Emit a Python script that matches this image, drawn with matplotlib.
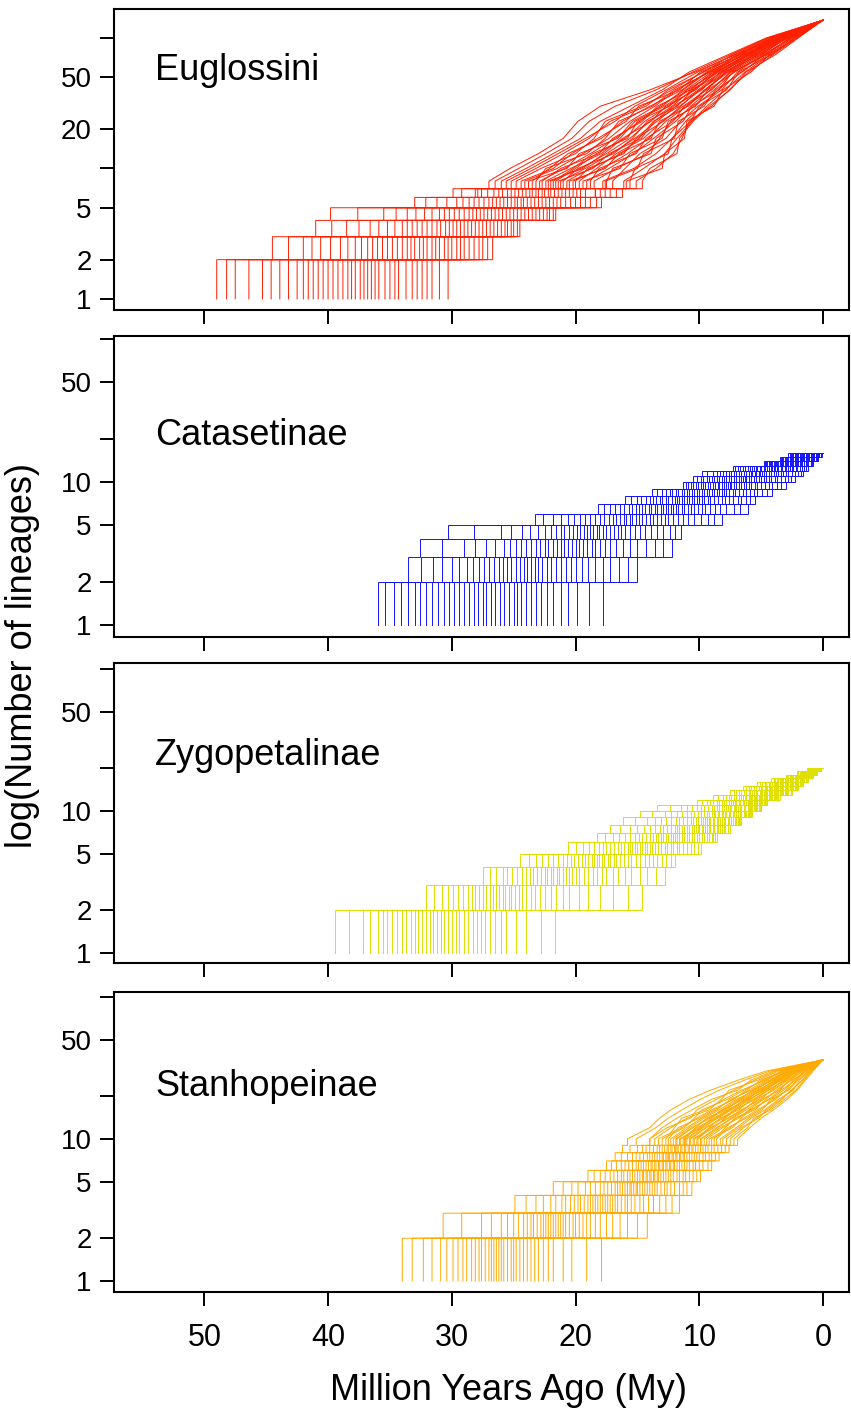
import matplotlib
matplotlib.use("Agg")
import matplotlib.pyplot as plt
from matplotlib.ticker import FixedLocator, NullLocator

plt.rcParams['font.family'] = ['Liberation Sans', 'DejaVu Sans']

# ---------------- data (ages in My at which each lineage count is reached) ----
X_TICKS = [50, 40, 30, 20, 10, 0]
Y_TICKS = [1, 2, 5, 10, 20, 50, 100]
Y_LABELS_TOP = ['1', '2', '5', '', '20', '50', '']
Y_LABELS_OTHER = ['1', '2', '5', '10', '', '50', '']

EUG_TIPS = 137
EUG_LEVELS = [2, 3, 4, 5, 6, 7, 8, 10, 13, 17, 23, 30, 40, 55, 75, 100]
EUG_AGES = [
    [49.0, 44.5, 41.0, 39.8, 33.0, 29.9, 27.0, 25.3, 23.0, 21.0, 19.8, 18.0, 14.0, 10.3, 7.0, 4.1],
    [45.3, 42.0, 36.6, 35.5, 31.2, 27.6, 26.0, 24.0, 21.8, 19.6, 18.0, 15.6, 13.0, 10.8, 7.6, 4.6],
    [47.5, 39.0, 38.5, 33.6, 28.6, 27.9, 25.2, 23.2, 21.0, 18.9, 17.2, 14.3, 12.5, 9.6, 7.3, 4.4],
    [41.6, 40.6, 35.2, 31.0, 29.6, 26.6, 24.4, 21.8, 20.3, 18.2, 15.9, 14.9, 11.6, 9.9, 6.6, 4.2],
    [43.9, 36.8, 34.0, 32.2, 27.8, 25.9, 23.2, 22.4, 19.1, 17.6, 16.5, 13.8, 12.0, 9.1, 6.8, 3.8],
    [40.0, 37.8, 32.4, 30.2, 26.4, 25.2, 23.8, 20.7, 19.7, 16.6, 15.4, 13.0, 11.3, 9.3, 6.2, 4.0],
    [42.5, 35.2, 33.2, 28.6, 27.0, 24.0, 22.7, 21.2, 18.1, 17.0, 14.6, 13.4, 10.7, 8.9, 6.4, 3.6],
    [38.4, 36.0, 30.9, 29.4, 25.2, 24.6, 21.8, 20.2, 18.6, 15.8, 15.0, 12.4, 11.0, 8.5, 6.1, 3.7],
    [40.8, 33.6, 31.6, 27.4, 25.8, 23.0, 22.2, 19.4, 17.7, 16.2, 13.9, 12.7, 10.3, 8.7, 5.8, 3.5],
    [37.1, 34.4, 29.6, 28.0, 24.2, 23.5, 21.0, 19.8, 16.9, 15.4, 14.2, 11.8, 10.5, 8.1, 6.0, 3.3],
    [39.2, 32.3, 30.2, 26.2, 24.7, 22.0, 21.4, 18.6, 17.3, 14.7, 13.6, 12.1, 9.8, 8.3, 5.5, 3.4],
    [35.9, 33.0, 28.4, 26.8, 23.0, 22.5, 20.0, 19.0, 16.1, 15.1, 12.9, 11.5, 10.0, 7.7, 5.6, 3.1],
    [37.8, 31.0, 29.0, 25.0, 23.6, 20.8, 20.5, 17.6, 16.5, 13.9, 13.2, 10.9, 9.5, 7.9, 5.1, 3.2],
    [34.3, 31.6, 27.2, 25.6, 21.8, 21.4, 18.8, 18.1, 15.1, 14.3, 12.1, 11.2, 9.0, 7.5, 5.3, 2.8],
    [36.5, 29.6, 27.8, 23.8, 22.4, 19.6, 19.4, 16.4, 15.6, 13.0, 12.5, 10.3, 9.3, 7.1, 4.9, 3.0],
    [32.4, 30.3, 26.0, 24.4, 20.4, 20.2, 17.5, 17.0, 13.9, 13.5, 11.3, 10.6, 8.4, 7.3, 4.5, 2.7],
    [35.0, 28.2, 26.6, 22.6, 21.2, 18.0, 17.6, 15.0, 14.5, 12.0, 11.7, 9.6, 8.7, 6.5, 4.7, 2.5],
    [30.3, 29.0, 25.0, 23.2, 18.8, 18.4, 15.6, 15.2, 12.5, 12.2, 10.7, 10.0, 7.8, 6.8, 4.1, 2.3],
    [33.2, 26.7, 25.5, 21.6, 19.6, 16.2, 15.9, 13.0, 12.8, 11.2, 11.0, 8.8, 8.1, 5.8, 4.3, 2.2],
    [31.6, 27.5, 24.5, 22.1, 17.9, 17.2, 14.6, 14.0, 11.8, 11.6, 10.5, 9.2, 7.5, 6.2, 3.8, 2.0],
]
EUG_AGES_B = [
    [48.2, 43.2, 39.7, 37.6, 32.1, 29.2, 26.5, 24.6, 22.4, 20.3, 18.9, 16.8, 13.5, 10.5, 7.4, 4.5],
    [44.6, 41.3, 37.5, 34.5, 29.1, 28.1, 25.6, 23.6, 21.4, 19.2, 16.8, 15.2, 12.7, 10.1, 7.1, 4.3],
    [46.4, 39.8, 34.6, 32.9, 30.4, 27.1, 24.8, 22.8, 20.0, 18.5, 17.6, 14.6, 12.2, 9.7, 6.7, 4.1],
    [42.0, 38.4, 35.9, 31.6, 28.2, 26.2, 23.5, 22.1, 20.6, 17.9, 16.2, 14.0, 11.4, 9.4, 6.9, 4.0],
    [43.2, 37.3, 33.6, 30.6, 27.4, 25.5, 24.1, 21.5, 19.4, 17.3, 15.6, 13.6, 11.8, 9.2, 6.5, 3.9],
    [40.4, 36.4, 32.8, 29.8, 26.1, 24.9, 22.9, 20.9, 18.8, 16.8, 14.8, 13.2, 11.1, 9.0, 6.3, 3.7],
    [41.2, 35.6, 31.2, 29.0, 26.7, 24.3, 22.4, 20.4, 17.9, 16.4, 15.2, 12.8, 10.8, 8.8, 6.0, 3.6],
    [38.8, 34.8, 32.0, 28.3, 25.5, 23.7, 21.6, 20.0, 18.3, 16.0, 14.4, 12.5, 10.4, 8.6, 6.1, 3.5],
    [39.6, 34.0, 30.5, 27.7, 24.9, 23.2, 22.0, 19.6, 17.5, 15.6, 14.0, 12.2, 10.6, 8.4, 5.9, 3.4],
    [37.4, 33.3, 29.9, 27.1, 23.9, 22.7, 21.2, 19.2, 17.1, 15.2, 13.4, 11.9, 10.1, 8.2, 5.7, 3.3],
    [38.1, 32.6, 28.7, 26.5, 24.4, 22.2, 20.7, 18.8, 16.3, 14.9, 13.7, 11.6, 9.9, 8.0, 5.4, 3.2],
    [36.2, 32.0, 29.3, 25.9, 23.3, 21.7, 19.7, 18.3, 16.7, 14.5, 13.0, 11.3, 9.4, 7.8, 5.5, 3.1],
    [36.8, 31.3, 28.1, 25.3, 22.7, 21.1, 20.2, 17.8, 15.8, 14.1, 12.7, 11.0, 9.6, 7.6, 5.2, 3.0],
    [34.6, 30.6, 27.5, 24.7, 21.5, 20.5, 19.1, 17.3, 15.3, 13.7, 11.9, 10.7, 9.1, 7.4, 5.0, 2.9],
    [35.4, 30.0, 26.3, 24.1, 22.1, 19.9, 18.5, 16.7, 14.2, 13.2, 12.3, 10.4, 8.8, 7.2, 4.6, 2.7],
    [32.8, 29.3, 26.9, 23.5, 20.8, 19.2, 17.0, 16.0, 14.8, 12.7, 11.5, 10.1, 8.2, 6.9, 4.8, 2.6],
    [33.7, 28.6, 25.7, 22.9, 20.0, 18.4, 17.8, 15.3, 13.5, 12.2, 11.1, 9.8, 8.5, 6.6, 4.4, 2.4],
    [31.0, 27.8, 25.2, 22.3, 18.3, 17.6, 16.1, 14.5, 12.8, 11.8, 10.6, 9.4, 7.9, 6.3, 4.2, 2.2],
    [32.0, 27.1, 24.7, 21.8, 19.2, 16.7, 15.1, 13.5, 12.1, 11.4, 10.8, 9.0, 7.6, 6.0, 4.0, 2.1],
]

CAT_TIPS = 16
CAT_LEVELS = [2, 3, 4, 5, 6, 7, 8, 9, 10, 11, 12, 13, 14, 15, 16]
CAT_AGES = [
    [36.0, 33.5, 32.6, 30.3, 23.3, 18.2, 16.0, 13.8, 11.3, 10.5, 9.8, 7.3, 4.8, 3.5, 2.8],
    [34.7, 30.0, 29.0, 26.0, 21.8, 17.2, 15.0, 12.4, 10.9, 9.9, 8.9, 6.9, 4.6, 3.1, 2.6],
    [32.6, 31.5, 27.2, 24.3, 20.6, 15.7, 14.3, 13.0, 10.5, 9.4, 8.3, 6.1, 4.4, 3.3, 2.4],
    [33.5, 28.8, 25.8, 22.0, 19.6, 16.4, 13.7, 11.9, 10.1, 8.6, 7.8, 6.5, 4.2, 2.9, 2.2],
    [30.6, 27.8, 24.8, 23.0, 18.8, 15.1, 13.2, 11.4, 9.7, 9.0, 7.4, 5.7, 4.0, 2.7, 2.0],
    [31.6, 26.2, 24.0, 21.2, 18.0, 14.6, 12.7, 10.6, 9.3, 8.2, 7.0, 5.4, 3.8, 2.4, 1.8],
    [29.0, 27.0, 23.2, 20.5, 17.3, 13.6, 12.2, 11.0, 8.9, 7.8, 6.6, 4.8, 3.6, 2.6, 1.6],
    [29.8, 25.5, 22.5, 19.3, 16.7, 14.1, 11.8, 10.2, 8.5, 7.0, 6.2, 5.1, 3.4, 2.2, 1.4],
    [27.5, 24.8, 21.8, 19.9, 16.1, 13.1, 11.4, 9.8, 8.2, 7.4, 5.8, 4.5, 3.2, 2.1, 1.3],
    [28.2, 23.6, 21.2, 18.8, 15.6, 12.7, 11.0, 9.0, 7.8, 6.6, 5.5, 4.2, 3.0, 1.8, 1.1],
    [26.1, 24.2, 20.6, 18.3, 15.1, 11.9, 10.6, 9.4, 7.5, 6.3, 5.2, 3.7, 2.8, 1.9, 1.0],
    [26.8, 23.0, 20.0, 17.2, 14.6, 12.3, 10.2, 8.6, 7.2, 5.6, 4.9, 4.0, 2.6, 1.6, 0.9],
    [24.7, 22.3, 19.4, 17.8, 14.0, 11.4, 9.8, 8.2, 6.8, 6.0, 4.6, 3.4, 2.4, 1.5, 0.8],
    [25.4, 20.8, 18.7, 16.6, 13.4, 10.9, 9.3, 7.3, 6.4, 5.2, 4.2, 3.1, 2.2, 1.1, 0.7],
    [23.2, 21.6, 18.0, 16.0, 12.8, 9.8, 8.8, 7.8, 6.0, 4.8, 3.8, 2.5, 2.0, 1.3, 0.6],
    [24.0, 20.0, 17.2, 14.4, 12.1, 10.4, 8.2, 6.8, 5.5, 3.9, 3.4, 2.8, 1.8, 1.0, 0.5],
    [21.2, 19.0, 16.2, 15.2, 11.3, 9.1, 7.6, 6.2, 5.0, 4.4, 3.0, 2.2, 1.5, 0.8, 0.4],
    [22.3, 16.5, 15.0, 13.4, 10.4, 8.3, 6.9, 4.9, 4.4, 3.4, 2.5, 1.9, 1.3, 0.5, 0.3],
    [19.9, 17.8, 13.6, 12.4, 9.3, 7.2, 6.2, 5.6, 3.7, 2.8, 2.0, 1.5, 1.0, 0.7, 0.2],
    [17.8, 15.0, 12.2, 11.5, 8.2, 6.1, 5.5, 4.1, 3.0, 2.3, 1.6, 1.2, 0.8, 0.4, 0.1],
]
CAT_AGES_B = [
    [35.4, 32.5, 30.8, 28.2, 22.6, 17.7, 15.5, 13.4, 11.1, 10.2, 9.4, 7.1, 4.7, 3.4, 2.7],
    [33.0, 30.8, 28.1, 25.2, 20.1, 16.8, 14.7, 12.7, 10.7, 9.7, 8.1, 6.7, 4.5, 3.2, 2.5],
    [34.1, 29.4, 25.3, 23.7, 21.2, 16.1, 14.0, 12.2, 9.9, 9.2, 8.6, 6.3, 4.3, 3.0, 2.1],
    [31.1, 28.3, 26.5, 22.5, 19.2, 15.4, 13.0, 11.7, 10.3, 8.8, 7.6, 5.9, 3.9, 2.8, 2.3],
    [32.1, 27.4, 24.4, 21.6, 18.4, 14.9, 13.5, 11.2, 9.5, 8.4, 7.2, 5.6, 4.1, 2.6, 1.9],
    [29.4, 26.6, 23.6, 20.9, 17.0, 14.4, 12.5, 10.8, 9.1, 8.0, 6.4, 5.3, 3.7, 2.5, 1.7],
    [30.2, 25.9, 22.2, 20.2, 17.7, 13.9, 12.0, 10.4, 8.4, 7.6, 6.8, 5.0, 3.5, 2.3, 1.3],
    [27.9, 25.2, 22.9, 19.6, 16.4, 13.4, 11.2, 10.0, 8.7, 7.2, 6.0, 4.7, 3.1, 2.1, 1.5],
    [28.6, 24.5, 21.5, 19.1, 15.9, 12.9, 11.6, 9.6, 8.0, 6.8, 5.7, 4.4, 3.3, 2.0, 1.2],
    [26.5, 23.9, 20.9, 18.6, 14.9, 12.5, 10.8, 9.2, 7.7, 6.5, 5.1, 4.1, 2.9, 1.8, 1.0],
    [27.2, 23.3, 19.7, 18.1, 15.4, 12.1, 10.4, 8.8, 7.0, 6.2, 5.4, 3.9, 2.7, 1.7, 0.8],
    [25.0, 22.7, 20.3, 17.5, 14.3, 11.7, 9.6, 8.4, 7.4, 5.8, 4.8, 3.6, 2.3, 1.5, 0.9],
    [25.8, 22.0, 19.1, 16.9, 13.7, 11.2, 10.0, 8.0, 6.6, 5.4, 4.4, 3.3, 2.5, 1.4, 0.7],
    [23.6, 21.2, 18.4, 16.3, 12.5, 10.7, 9.1, 7.6, 6.2, 5.0, 3.6, 3.0, 2.1, 1.2, 0.6],
    [24.4, 20.4, 16.7, 15.6, 13.1, 10.1, 8.5, 7.1, 5.3, 4.6, 4.0, 2.7, 1.9, 1.0, 0.4],
    [21.8, 19.5, 17.6, 14.8, 11.7, 9.5, 7.3, 6.5, 5.8, 4.2, 3.2, 2.4, 1.4, 0.9, 0.5],
    [22.8, 18.4, 15.6, 13.9, 10.9, 8.7, 7.9, 5.9, 4.7, 3.7, 2.8, 2.1, 1.7, 0.7, 0.3],
    [18.9, 17.2, 14.3, 12.9, 8.8, 7.8, 6.6, 5.3, 4.1, 3.1, 1.8, 1.7, 1.2, 0.6, 0.2],
    [20.6, 15.8, 12.9, 12.0, 9.9, 6.7, 5.9, 4.5, 3.4, 2.6, 2.3, 1.4, 0.9, 0.4, 0.15],
]

ZYG_TIPS = 20
ZYG_LEVELS = [2, 3, 4, 5, 6, 7, 8, 9, 10, 11, 12, 13, 14, 15, 16, 17, 18, 19, 20]
ZYG_AGES = [
    [39.4, 32.1, 27.5, 24.5, 20.6, 18.3, 17.2, 16.2, 14.8, 13.4, 10.2, 8.9, 7.5, 6.5, 5.3, 4.2, 3.0, 2.1, 1.3],
    [37.2, 29.9, 26.4, 23.2, 19.4, 17.0, 15.6, 13.1, 12.8, 11.5, 9.4, 8.1, 7.0, 5.6, 4.9, 3.9, 2.8, 2.0, 1.2],
    [35.2, 30.8, 25.5, 22.2, 18.5, 15.2, 14.5, 14.2, 11.8, 10.6, 8.9, 7.2, 6.6, 6.0, 4.6, 3.6, 2.6, 1.7, 1.1],
    [36.0, 29.1, 24.7, 20.7, 17.8, 16.0, 13.6, 12.3, 11.0, 9.3, 8.4, 7.6, 6.2, 5.2, 4.3, 3.2, 2.5, 1.8, 1.0],
    [33.7, 28.4, 24.0, 21.4, 17.2, 14.6, 12.9, 11.6, 10.4, 9.9, 8.0, 6.8, 5.9, 4.9, 4.0, 3.4, 2.3, 1.6, 1.0],
    [34.4, 27.2, 23.4, 20.1, 16.6, 14.0, 12.3, 10.5, 9.9, 8.8, 7.6, 6.5, 5.6, 4.4, 3.8, 3.0, 2.2, 1.5, 0.9],
    [32.4, 27.8, 22.8, 19.5, 16.1, 13.1, 11.8, 11.0, 9.4, 8.4, 7.3, 5.9, 5.3, 4.6, 3.6, 2.8, 2.1, 1.4, 0.9],
    [33.0, 26.7, 22.3, 18.5, 15.6, 13.5, 11.4, 10.1, 9.0, 7.7, 7.0, 6.2, 5.0, 4.2, 3.4, 2.5, 2.0, 1.4, 0.8],
    [31.2, 26.2, 21.8, 19.0, 15.2, 12.7, 11.0, 9.7, 8.7, 8.0, 6.7, 5.7, 4.8, 4.0, 3.2, 2.7, 1.9, 1.3, 0.8],
    [31.8, 25.2, 21.3, 18.1, 14.8, 12.3, 10.6, 9.1, 8.4, 7.4, 6.4, 5.5, 4.6, 3.6, 3.1, 2.4, 1.8, 1.2, 0.7],
    [30.0, 25.7, 20.8, 17.7, 14.4, 11.6, 10.3, 9.4, 8.1, 7.1, 6.1, 5.1, 4.4, 3.8, 2.9, 2.3, 1.7, 1.1, 0.7],
    [30.6, 24.6, 20.3, 16.7, 14.0, 12.0, 10.0, 8.8, 7.8, 6.6, 5.9, 5.3, 4.2, 3.4, 2.8, 2.0, 1.6, 1.2, 0.6],
    [28.7, 24.0, 19.7, 17.2, 13.6, 11.2, 9.7, 8.5, 7.5, 6.9, 5.7, 4.9, 4.0, 3.2, 2.6, 2.2, 1.5, 1.0, 0.6],
    [29.4, 22.5, 19.0, 16.1, 13.1, 10.8, 9.4, 7.9, 7.2, 6.3, 5.5, 4.7, 3.8, 2.8, 2.4, 1.9, 1.4, 1.0, 0.5],
    [27.3, 23.3, 18.3, 15.5, 12.6, 10.0, 9.1, 8.2, 6.9, 6.0, 5.3, 4.3, 3.6, 3.0, 2.3, 1.8, 1.3, 0.8, 0.5],
    [28.0, 21.6, 17.5, 14.1, 12.1, 10.4, 8.8, 7.6, 6.6, 5.6, 5.1, 4.5, 3.4, 2.7, 2.1, 1.6, 1.2, 0.9, 0.4],
    [25.6, 20.5, 16.6, 14.8, 11.6, 9.6, 8.5, 7.3, 6.3, 5.8, 4.9, 4.1, 3.2, 2.5, 2.0, 1.7, 1.1, 0.8, 0.4],
    [26.5, 17.0, 15.5, 13.4, 11.0, 9.2, 8.2, 6.8, 6.1, 5.4, 4.8, 3.9, 3.0, 2.2, 1.9, 1.5, 1.0, 0.7, 0.3],
    [24.0, 19.0, 14.2, 12.7, 10.4, 8.9, 7.9, 7.0, 5.9, 5.2, 4.6, 3.7, 2.8, 2.3, 1.7, 1.3, 0.9, 0.6, 0.3],
    [21.7, 14.6, 12.8, 12.0, 9.9, 8.6, 7.5, 6.6, 5.7, 5.0, 4.5, 3.5, 2.5, 2.0, 1.6, 1.2, 0.8, 0.5, 0.2],
]
ZYG_AGES_B = [
    [38.3, 31.4, 26.9, 23.8, 20.0, 17.6, 16.4, 15.2, 13.8, 12.4, 9.8, 8.5, 7.2, 6.2, 5.1, 4.0, 2.9, 2.05, 1.25],
    [35.6, 30.3, 25.9, 22.7, 18.1, 16.5, 15.0, 13.6, 12.3, 11.0, 8.6, 7.8, 6.8, 5.8, 4.7, 3.7, 2.5, 1.9, 1.15],
    [36.6, 29.5, 24.3, 21.8, 18.9, 15.6, 14.0, 12.7, 10.7, 10.2, 9.1, 7.4, 6.4, 5.4, 4.1, 3.5, 2.7, 1.75, 1.05],
    [34.0, 28.7, 25.1, 21.0, 17.5, 14.9, 12.6, 11.9, 11.4, 9.6, 8.2, 7.0, 5.7, 5.0, 4.4, 3.3, 2.4, 1.65, 0.95],
    [34.8, 28.1, 23.7, 20.4, 16.9, 14.3, 13.2, 11.3, 10.1, 9.0, 7.8, 6.6, 6.0, 4.7, 3.9, 3.1, 2.25, 1.55, 1.0],
    [32.7, 27.5, 23.1, 19.8, 15.8, 13.7, 12.0, 10.7, 9.6, 8.6, 7.1, 6.3, 5.4, 4.5, 3.7, 2.9, 2.05, 1.45, 0.9],
    [33.3, 26.9, 22.0, 19.2, 16.3, 13.3, 11.6, 10.3, 8.8, 8.2, 7.4, 6.0, 5.1, 4.3, 3.3, 2.7, 2.15, 1.4, 0.85],
    [31.5, 26.4, 22.5, 18.7, 15.4, 12.9, 10.8, 9.9, 9.2, 7.8, 6.8, 5.8, 4.7, 4.1, 3.5, 2.6, 1.95, 1.35, 0.75],
    [32.1, 25.9, 21.5, 18.3, 15.0, 12.5, 11.2, 9.5, 8.5, 7.5, 6.5, 5.6, 4.9, 3.9, 3.1, 2.5, 1.85, 1.25, 0.8],
    [30.3, 25.4, 21.0, 17.9, 14.2, 12.1, 10.4, 9.2, 8.2, 7.2, 6.0, 5.4, 4.5, 3.7, 3.0, 2.3, 1.65, 1.2, 0.7],
    [30.9, 24.9, 20.0, 17.4, 14.6, 11.8, 10.1, 8.9, 7.6, 7.0, 6.2, 5.2, 4.3, 3.5, 2.7, 2.2, 1.75, 1.15, 0.65],
    [29.0, 24.3, 20.5, 16.9, 13.8, 11.4, 9.5, 8.6, 7.9, 6.7, 5.8, 5.0, 3.9, 3.3, 2.8, 2.1, 1.55, 1.05, 0.55],
    [29.7, 23.6, 19.3, 16.4, 13.3, 11.0, 9.8, 8.3, 7.3, 6.4, 5.6, 4.8, 4.1, 3.1, 2.5, 1.9, 1.45, 1.0, 0.6],
    [27.6, 22.9, 18.6, 15.8, 12.3, 10.6, 9.2, 8.0, 7.0, 6.1, 5.2, 4.6, 3.7, 2.9, 2.3, 1.8, 1.25, 0.95, 0.5],
    [28.3, 22.0, 17.0, 15.1, 12.8, 10.2, 8.9, 7.7, 6.4, 5.9, 5.4, 4.4, 3.5, 2.7, 2.0, 1.7, 1.35, 0.85, 0.45],
    [26.0, 21.0, 17.9, 14.4, 11.8, 9.8, 8.3, 7.4, 6.7, 5.7, 5.0, 4.2, 3.1, 2.6, 2.2, 1.6, 1.15, 0.8, 0.35],
    [26.9, 19.7, 16.0, 13.7, 11.3, 9.4, 8.6, 7.1, 6.2, 5.5, 4.8, 4.0, 3.3, 2.4, 1.9, 1.5, 1.05, 0.75, 0.4],
    [22.8, 18.0, 14.8, 13.0, 10.1, 9.0, 8.0, 6.9, 6.0, 5.3, 4.5, 3.8, 2.9, 2.2, 1.8, 1.4, 0.85, 0.65, 0.3],
    [24.8, 15.8, 13.5, 12.3, 10.7, 8.7, 7.7, 6.7, 5.8, 5.1, 4.7, 3.6, 2.6, 2.1, 1.6, 1.2, 0.95, 0.55, 0.25],
]

STA_TIPS = 36
STA_LEVELS = [2, 3, 4, 5, 6, 7, 8, 9, 10, 12, 14, 16, 19, 22, 26, 30]
STA_AGES = [
    [34.0, 30.7, 24.9, 21.8, 19.0, 17.5, 16.8, 16.2, 15.8, 14.0, 13.2, 12.3, 10.8, 9.1, 6.8, 4.6],
    [32.3, 26.0, 23.2, 20.3, 18.0, 16.7, 15.8, 14.3, 14.0, 13.0, 11.8, 10.6, 9.0, 6.9, 5.8, 4.0],
    [29.9, 27.6, 22.0, 19.2, 17.2, 15.4, 15.1, 15.0, 13.6, 12.3, 11.0, 9.2, 8.2, 7.6, 5.2, 3.6],
    [30.9, 25.0, 21.1, 17.7, 16.6, 16.0, 14.5, 13.7, 13.0, 11.2, 10.4, 9.8, 7.7, 6.4, 4.8, 3.1],
    [28.4, 24.2, 20.4, 18.4, 16.1, 14.9, 14.0, 13.2, 12.5, 11.7, 10.0, 8.8, 7.3, 6.0, 4.5, 3.3],
    [29.1, 23.1, 19.8, 17.1, 15.6, 14.5, 13.6, 12.5, 12.1, 10.8, 9.6, 8.4, 7.0, 5.4, 4.2, 2.9],
    [27.3, 23.6, 19.3, 16.6, 15.2, 13.8, 13.2, 12.8, 11.8, 10.5, 9.3, 7.8, 6.7, 5.7, 4.0, 2.8],
    [27.8, 22.6, 18.8, 15.8, 14.8, 14.1, 12.9, 12.2, 11.5, 9.9, 9.0, 8.1, 6.4, 5.2, 3.8, 2.5],
    [26.4, 22.2, 18.4, 16.2, 14.5, 13.5, 12.6, 11.9, 11.2, 10.2, 8.7, 7.6, 6.2, 5.0, 3.6, 2.6],
    [26.8, 21.4, 18.0, 15.5, 14.2, 13.2, 12.4, 11.4, 11.0, 9.7, 8.5, 7.4, 6.0, 4.6, 3.5, 2.4],
    [25.5, 21.8, 17.6, 15.1, 13.9, 12.6, 12.1, 11.7, 10.7, 9.4, 8.2, 6.8, 5.8, 4.8, 3.3, 2.3],
    [26.0, 21.0, 17.2, 14.4, 13.6, 12.9, 11.8, 11.1, 10.4, 8.8, 7.9, 7.1, 5.5, 4.4, 3.1, 2.0],
    [24.5, 20.5, 16.8, 14.8, 13.3, 12.3, 11.5, 10.8, 10.1, 9.1, 7.6, 6.5, 5.2, 4.1, 2.9, 2.2],
    [25.0, 19.4, 16.3, 14.0, 12.9, 12.0, 11.2, 10.1, 9.8, 8.5, 7.3, 6.2, 4.9, 3.5, 2.7, 1.9],
    [23.3, 20.0, 15.8, 13.6, 12.5, 11.2, 10.8, 10.5, 9.4, 8.1, 7.0, 5.5, 4.6, 3.8, 2.5, 1.7],
    [23.9, 18.8, 15.2, 12.6, 12.1, 11.6, 10.4, 9.7, 9.0, 7.3, 6.6, 5.9, 4.3, 3.2, 2.3, 1.3],
    [21.8, 18.0, 14.5, 13.1, 11.6, 10.8, 10.0, 9.3, 8.6, 7.7, 6.2, 5.1, 4.0, 2.9, 2.1, 1.5],
    [22.6, 15.8, 13.7, 12.0, 11.1, 10.3, 9.5, 8.2, 8.1, 6.8, 5.8, 4.7, 3.6, 2.4, 1.9, 1.1],
    [20.3, 17.0, 12.7, 11.3, 10.5, 9.7, 9.0, 8.8, 7.5, 6.4, 5.4, 4.4, 3.3, 2.6, 1.6, 1.0],
    [17.9, 14.2, 11.6, 10.6, 9.9, 9.0, 8.4, 7.6, 6.9, 5.9, 5.0, 4.0, 2.9, 2.1, 1.4, 0.8],
]
STA_AGES_B = [
    [33.2, 29.2, 24.0, 21.0, 18.5, 17.1, 16.3, 15.6, 15.1, 13.5, 12.5, 11.4, 9.9, 8.4, 6.3, 4.3],
    [30.4, 26.8, 22.6, 19.8, 16.9, 16.3, 15.4, 14.6, 14.0, 12.6, 10.7, 10.2, 8.6, 7.2, 5.5, 3.8],
    [31.6, 25.5, 20.8, 18.8, 17.6, 15.7, 14.8, 14.0, 12.7, 12.0, 11.4, 9.5, 8.0, 6.6, 4.6, 3.4],
    [28.8, 24.6, 21.6, 18.0, 16.3, 15.1, 13.8, 13.4, 13.3, 11.4, 10.2, 9.0, 7.2, 6.2, 5.0, 3.2],
    [29.5, 23.9, 20.1, 17.4, 15.8, 14.7, 14.2, 13.0, 12.3, 11.0, 9.8, 8.6, 7.5, 5.8, 4.3, 3.0],
    [27.6, 23.4, 19.6, 16.8, 15.0, 14.3, 13.4, 12.6, 11.9, 10.6, 9.1, 8.2, 6.8, 5.6, 4.1, 2.85],
    [28.1, 22.8, 18.6, 16.4, 15.4, 13.9, 13.0, 12.3, 11.3, 10.3, 9.4, 8.0, 6.6, 5.3, 3.7, 2.7],
    [26.6, 22.4, 19.0, 16.0, 14.6, 13.6, 12.5, 12.0, 11.6, 10.0, 8.8, 7.7, 6.1, 5.1, 3.9, 2.55],
    [27.0, 22.0, 18.2, 15.6, 14.3, 13.3, 12.7, 11.8, 11.1, 9.8, 8.6, 7.5, 6.3, 4.9, 3.5, 2.45],
    [25.8, 21.6, 17.8, 15.3, 13.7, 13.0, 12.2, 11.5, 10.8, 9.5, 8.0, 7.2, 5.9, 4.7, 3.4, 2.35],
    [26.2, 21.2, 17.0, 15.0, 14.0, 12.7, 11.9, 11.2, 10.2, 9.2, 8.3, 7.0, 5.6, 4.5, 3.0, 2.25],
    [24.8, 20.8, 17.4, 14.6, 13.4, 12.4, 11.3, 10.9, 10.5, 9.0, 7.7, 6.6, 5.0, 4.2, 3.2, 2.1],
    [25.2, 20.2, 16.6, 14.2, 13.1, 12.1, 11.6, 10.6, 9.9, 8.6, 7.4, 6.4, 5.4, 4.0, 2.8, 1.95],
    [23.6, 19.7, 16.0, 13.8, 12.3, 11.8, 11.0, 10.3, 9.6, 8.3, 6.8, 6.0, 4.8, 3.6, 2.6, 1.8],
    [24.2, 19.1, 14.8, 13.4, 12.7, 11.4, 10.6, 9.9, 8.8, 7.9, 7.1, 5.7, 4.4, 3.4, 2.2, 1.6],
    [22.2, 18.4, 15.5, 12.8, 11.8, 11.0, 9.7, 9.5, 9.2, 7.5, 6.4, 5.3, 3.8, 3.0, 2.4, 1.4],
    [23.0, 17.5, 14.1, 12.3, 11.3, 10.5, 10.2, 9.0, 8.3, 7.0, 6.0, 4.9, 4.2, 2.8, 2.0, 1.2],
    [19.1, 16.4, 13.2, 11.6, 10.2, 10.0, 9.2, 8.5, 7.8, 6.6, 5.2, 4.6, 3.4, 2.5, 1.7, 1.05],
    [21.0, 15.0, 12.2, 11.0, 10.8, 9.3, 8.7, 7.9, 7.2, 6.1, 5.6, 4.2, 3.1, 2.2, 1.5, 0.9],
]

PANELS = [
    # name, levels, ages, tips, colour, ylim, label y (axes frac), y labels
    ("Euglossini", EUG_LEVELS, EUG_AGES + EUG_AGES_B, EUG_TIPS, "#ff1e00",
     (0.823, 166.8), 0.764, Y_LABELS_TOP),
    ("Catasetinae", CAT_LEVELS, CAT_AGES + CAT_AGES_B, CAT_TIPS, "#1414ff",
     (0.824, 105.0), 0.638, Y_LABELS_OTHER),
    ("Zygopetalinae", ZYG_LEVELS, ZYG_AGES + ZYG_AGES_B, ZYG_TIPS, "#e0e000",
     (0.85, 110.0), 0.660, Y_LABELS_OTHER),
    ("Stanhopeinae", STA_LEVELS, STA_AGES + STA_AGES_B, STA_TIPS, "#ffaa00",
     (0.837, 108.0), 0.653, Y_LABELS_OTHER),
]

# axes boxes in pixels: (top, bottom)
W, H = 851, 1416
LEFT_PX, RIGHT_PX = 114, 849
BOXES = [(9, 310), (336, 637), (663, 963), (992, 1292)]


def ltt_xy(ages, levels, tips):
    xs = [ages[0], ages[0]]
    ys = [1, levels[0]]
    for k in range(1, len(levels)):
        a = ages[k]
        if levels[k] - levels[k - 1] == 1:
            xs += [a, a]
            ys += [levels[k - 1], levels[k]]
        else:
            xs.append(a)
            ys.append(levels[k])
    xs.append(0.0)
    ys.append(tips)
    return xs, ys


fig = plt.figure(figsize=(W / 100, H / 100), dpi=100)

for i, (name, levels, ages_list, tips, col, ylim, laby, ylabs) in enumerate(PANELS):
    top, bot = BOXES[i]
    ax = fig.add_axes([LEFT_PX / W, 1 - bot / H, (RIGHT_PX - LEFT_PX) / W, (bot - top) / H])
    for ages in ages_list:
        xs, ys = ltt_xy(ages, levels, tips)
        ax.plot(xs, ys, color=col, lw=0.7, solid_joinstyle='miter')
    ax.set_yscale('log')
    ax.set_ylim(*ylim)
    ax.set_xlim(57.3, -2.1)
    ax.yaxis.set_major_locator(FixedLocator(Y_TICKS))
    ax.yaxis.set_minor_locator(NullLocator())
    ax.set_yticklabels(ylabs)
    ax.set_xticks(X_TICKS)
    if i == 3:
        ax.set_xticklabels([str(t) for t in X_TICKS])
    else:
        ax.set_xticklabels([])
    ax.tick_params(axis='y', direction='out', length=10, width=1.4, labelsize=20, pad=6)
    ax.tick_params(axis='x', direction='out', length=10, width=1.4, labelsize=22, pad=12)
    for s in ax.spines.values():
        s.set_linewidth(1.5)
    ax.text(0.056, laby, name, transform=ax.transAxes, fontsize=26,
            ha='left', va='baseline')

fig.text(509 / W, 1 - 1391 / H, "Million Years Ago (My)", fontsize=26,
         ha='center', va='center')
fig.text(23 / W, 1 - 655 / H, "log(Number of lineages)", fontsize=26,
         rotation=90, ha='center', va='center')

fig.savefig("out.png", dpi=100)
